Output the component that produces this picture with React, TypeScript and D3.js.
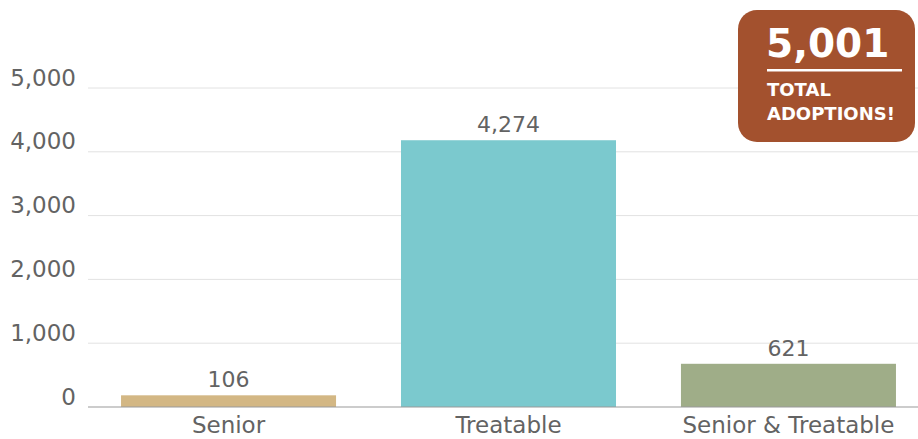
import React from "react";
import * as d3 from "d3";

const categories = ["Senior", "Treatable", "Senior & Treatable"];
const adoptions = [106, 4274, 621];
const barColors = ["#d3b784", "#7bc9ce", "#9fad88"];
const yTicks = [0, 1000, 2000, 3000, 4000, 5000];
const totalLabel = "5,001";
const totalCaption = ["TOTAL", "ADOPTIONS!"];

const W = 918;
const H = 439;
const FONT = "'DejaVu Sans', sans-serif";

export default function App() {
  const y = d3.scaleLinear().domain([0, 5000]).range([407, 88]);
  const yBar = d3.scaleLinear().domain([0, 5000]).range([401.8, 95.8]);
  const x = d3
    .scaleBand<string>()
    .domain(categories)
    .range([88, 929])
    .paddingInner(0.232)
    .paddingOuter(0.118);
  const fmt = d3.format(",");

  return (
    <svg
      width={W}
      height={H}
      style={{ position: "absolute", left: 0, top: 0, background: "#fff" }}
    >
      {yTicks.map((t) => (
        <g key={t}>
          {t !== 0 && (
            <line x1={88} x2={W} y1={y(t)} y2={y(t)} stroke="#e2e2e2" strokeWidth={1} />
          )}
          <text
            x={76}
            y={y(t) - 2.5}
            textAnchor="end"
            fontFamily={FONT}
            fontSize={23}
            fill="#636363"
          >
            {fmt(t)}
          </text>
        </g>
      ))}
      {categories.map((c, i) => {
        const v = adoptions[i];
        const bx = x(c)!;
        const top = yBar(v);
        return (
          <g key={c}>
            <rect x={bx} y={top} width={x.bandwidth()} height={y(0) - top} fill={barColors[i]} />
            <text
              x={bx + x.bandwidth() / 2}
              y={top - 8}
              textAnchor="middle"
              fontFamily={FONT}
              fontSize={22}
              fill="#636363"
            >
              {fmt(v)}
            </text>
            <text
              x={bx + x.bandwidth() / 2}
              y={433}
              textAnchor="middle"
              fontFamily={FONT}
              fontSize={23}
              fill="#636363"
            >
              {c}
            </text>
          </g>
        );
      })}
      <line x1={88} x2={W} y1={y(0)} y2={y(0)} stroke="#9a9a9a" strokeWidth={1.2} />
      <g>
        <rect x={738} y={10} width={177} height={132} rx={19} ry={19} fill="#a3512e" />
        <text x={766} y={57} fontFamily={FONT} fontWeight="bold" fontSize={39} fill="#fff">
          {totalLabel}
        </text>
        <line x1={767} x2={902} y1={70.3} y2={70.3} stroke="#fff" strokeWidth={2.5} />
        {totalCaption.map((t, i) => (
          <text
            key={t}
            x={767}
            y={96 + i * 24}
            fontFamily={FONT}
            fontWeight="bold"
            fontSize={18}
            fill="#fff"
          >
            {t}
          </text>
        ))}
      </g>
    </svg>
  );
}
